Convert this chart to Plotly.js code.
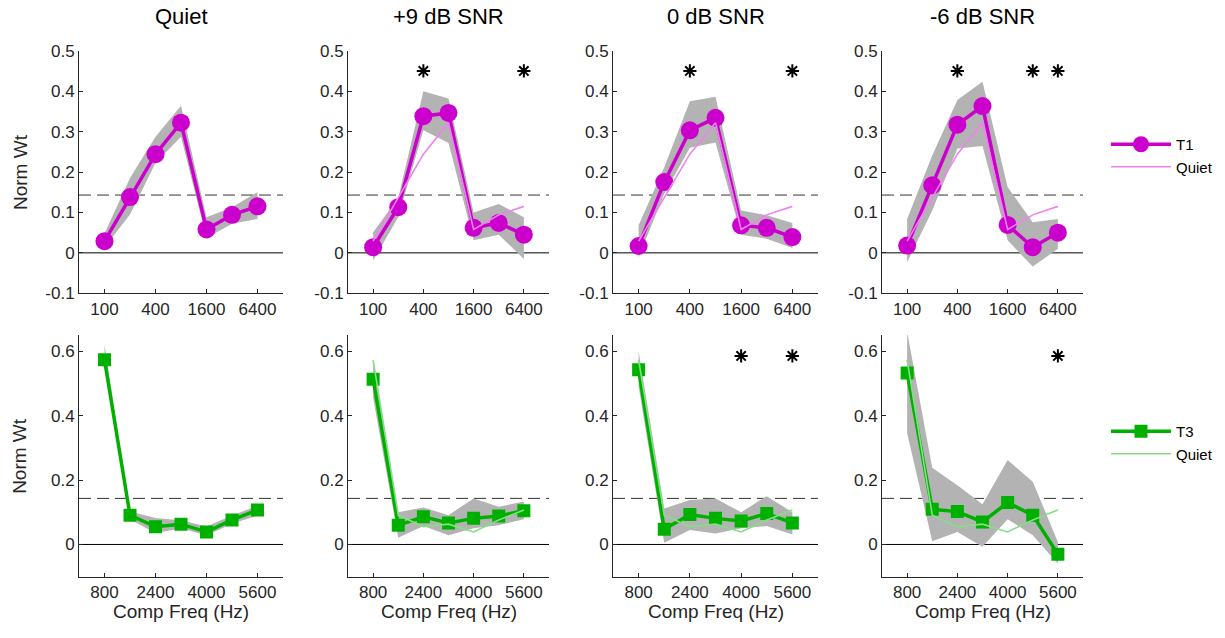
<!DOCTYPE html>
<html>
<head>
<meta charset="utf-8">
<script src="https://cdn.plot.ly/plotly-3.0.1.min.js"></script>
<style>html,body{margin:0;padding:0;background:#fff;}#chart{width:1225px;height:638px;}</style>
</head>
<body>
<div id="chart"></div>
<script>
// ---------- DATA ----------
const freqT1 = [100, 200, 400, 800, 1600, 3200, 6400];
const freqT3 = [800, 1600, 2400, 3200, 4000, 4800, 5600];
const panelTitles = ['Quiet', '+9 dB SNR', '0 dB SNR', '-6 dB SNR'];
const t1TickVals = [100, 400, 1600, 6400];
const t1TickText = ['100', '400', '1600', '6400'];
const t3TickVals = [800, 2400, 4000, 5600];
const t3TickText = ['800', '2400', '4000', '5600'];
const t1YTickVals = [-0.1, 0, 0.1, 0.2, 0.3, 0.4, 0.5];
const t1YTickText = ['-0.1', '0', '0.1', '0.2', '0.3', '0.4', '0.5'];
const t3YTickVals = [0, 0.2, 0.4, 0.6];
const t3YTickText = ['0', '0.2', '0.4', '0.6'];
const chanceLevel = 0.143;

// T1 (top row)
const t1QuietMean = [0.029, 0.138, 0.244, 0.322, 0.058, 0.094, 0.115];
const t1QuietLo   = [0.014, 0.095, 0.222, 0.287, 0.037, 0.072, 0.084];
const t1QuietHi   = [0.048, 0.185, 0.287, 0.364, 0.088, 0.113, 0.150];
const t1Snr9Mean  = [0.014, 0.113, 0.338, 0.346, 0.062, 0.074, 0.045];
const t1Snr9Lo    = [-0.019, 0.088, 0.303, 0.272, 0.031, 0.045, -0.015];
const t1Snr9Hi    = [0.051, 0.136, 0.400, 0.382, 0.100, 0.121, 0.088];
const t1Snr0Mean  = [0.017, 0.175, 0.303, 0.334, 0.068, 0.062, 0.039];
const t1Snr0Lo    = [-0.011, 0.146, 0.260, 0.273, 0.045, 0.035, 0.012];
const t1Snr0Hi    = [0.068, 0.212, 0.375, 0.386, 0.105, 0.093, 0.074];
const t1SnrM6Mean = [0.018, 0.167, 0.317, 0.363, 0.069, 0.014, 0.050];
const t1SnrM6Lo   = [-0.023, 0.105, 0.258, 0.264, 0.031, -0.034, 0.010];
const t1SnrM6Hi   = [0.084, 0.241, 0.378, 0.423, 0.163, 0.076, 0.084];

// T3 (bottom row)
const t3QuietMean = [0.573, 0.091, 0.055, 0.063, 0.039, 0.076, 0.107];
const t3QuietLo   = [0.550, 0.078, 0.035, 0.050, 0.028, 0.064, 0.090];
const t3QuietHi   = [0.620, 0.102, 0.082, 0.075, 0.056, 0.090, 0.120];
const t3Snr9Mean  = [0.513, 0.060, 0.086, 0.067, 0.081, 0.088, 0.105];
const t3Snr9Lo    = [0.455, 0.021, 0.057, 0.029, 0.050, 0.060, 0.078];
const t3Snr9Hi    = [0.568, 0.100, 0.115, 0.091, 0.143, 0.117, 0.133];
const t3Snr0Mean  = [0.542, 0.047, 0.093, 0.081, 0.073, 0.096, 0.067];
const t3Snr0Lo    = [0.490, 0.005, 0.045, 0.034, 0.050, 0.057, 0.031];
const t3Snr0Hi    = [0.599, 0.112, 0.138, 0.143, 0.100, 0.150, 0.100];
const t3SnrM6Mean = [0.532, 0.109, 0.102, 0.070, 0.130, 0.091, -0.030];
const t3SnrM6Lo   = [0.345, 0.010, 0.039, -0.007, 0.078, 0.029, -0.059];
const t3SnrM6Hi   = [0.660, 0.238, 0.184, 0.125, 0.262, 0.195, 0.008];

// significance markers (frequencies)
const sigT1 = [[], [400, 6400], [400, 6400], [400, 3200, 6400]];
const sigT3 = [[], [], [4000, 5600], [5600]];
const sigYT1 = 0.45;
const sigYT3 = 0.585;

// ---------- STYLE ----------
const W = 1225, H = 638;
const FONT = 'Liberation Sans, Arial, Helvetica, sans-serif';
const TXT = '#262626';
const MAGENTA = '#CC00CC', MAGENTA_LIGHT = '#EE82EE';
const GREEN = '#00B000', GREEN_LIGHT = '#86DE86';
const BAND = '#B3B3B3';
const colPx = [[79, 283], [348, 549], [613, 818], [882, 1083]];
const topRowPx = [50.7, 293.3], botRowPx = [335, 576.7];

const t1Sets = [[t1QuietMean, t1QuietLo, t1QuietHi], [t1Snr9Mean, t1Snr9Lo, t1Snr9Hi],
                [t1Snr0Mean, t1Snr0Lo, t1Snr0Hi], [t1SnrM6Mean, t1SnrM6Lo, t1SnrM6Hi]];
const t3Sets = [[t3QuietMean, t3QuietLo, t3QuietHi], [t3Snr9Mean, t3Snr9Lo, t3Snr9Hi],
                [t3Snr0Mean, t3Snr0Lo, t3Snr0Hi], [t3SnrM6Mean, t3SnrM6Lo, t3SnrM6Hi]];

const traces = [];
const layout = {
  width: W, height: H, autosize: false,
  margin: {l: 0, r: 0, t: 0, b: 0},
  paper_bgcolor: '#fff', plot_bgcolor: 'rgba(0,0,0,0)',
  font: {family: FONT, color: TXT, size: 15},
  showlegend: true,
  legend: {x: 1106 / W, y: 1 - 128 / H, xanchor: 'left', yanchor: 'top', bgcolor: 'rgba(0,0,0,0)',
           font: {size: 15, color: '#000'}, itemwidth: 60, tracegroupgap: 0},
  legend2: {x: 1106 / W, y: 1 - 415 / H, xanchor: 'left', yanchor: 'top', bgcolor: 'rgba(0,0,0,0)',
            font: {size: 15, color: '#000'}, itemwidth: 60, tracegroupgap: 0},
  shapes: [], annotations: []
};

function axId(n) { return n === 1 ? '' : String(n); }

function addPanel(idx, row, col, freqs, sets, quietMean, color, light, symbol, msize, sig, sigY) {
  const n = idx;
  const xa = 'x' + axId(n), ya = 'y' + axId(n);
  const [mean, lo, hi] = sets;
  const isTop = row === 0;
  // band
  traces.push({x: freqs.concat(freqs.slice().reverse()), y: hi.concat(lo.slice().reverse()),
    xaxis: xa, yaxis: ya, type: 'scatter', mode: 'lines', fill: 'toself', fillcolor: BAND,
    line: {width: 0, color: BAND}, showlegend: false, hoverinfo: 'skip'});
  // main
  const legendName = isTop ? 'T1' : 'T3';
  const legendRef = isTop ? 'legend' : 'legend2';
  traces.push({x: freqs, y: mean, xaxis: xa, yaxis: ya, type: 'scatter', mode: 'lines+markers',
    line: {color: color, width: 3.5}, marker: {color: color, size: msize, symbol: symbol},
    name: legendName, legend: legendRef, showlegend: col === 1});
  // quiet reference
  if (col > 0) {
    traces.push({x: freqs, y: quietMean, xaxis: xa, yaxis: ya, type: 'scatter', mode: 'lines',
      line: {color: light, width: 1.6}, name: 'Quiet', legend: legendRef, showlegend: col === 1});
  }
  // significance
  if (sig.length) {
    traces.push({x: sig, y: sig.map(() => sigY), xaxis: xa, yaxis: ya, type: 'scatter', mode: 'markers',
      marker: {symbol: 'asterisk-open', size: 11, color: '#000', line: {color: '#000', width: 2}},
      showlegend: false, hoverinfo: 'skip'});
  }
  const xd = [colPx[col][0] / W, colPx[col][1] / W];
  const rp = isTop ? topRowPx : botRowPx;
  const yd = [1 - rp[1] / H, 1 - rp[0] / H];
  layout['xaxis' + axId(n)] = {
    domain: xd, anchor: ya,
    type: isTop ? 'log' : 'linear',
    range: isTop ? [Math.log10(50), Math.log10(12800)] : [0, 6400],
    tickmode: 'array', tickvals: isTop ? t1TickVals : t3TickVals, ticktext: isTop ? t1TickText : t3TickText,
    showline: true, linecolor: TXT, linewidth: 1, ticks: 'inside', ticklen: 4, tickcolor: TXT,
    showgrid: false, zeroline: false, tickfont: {size: 17, color: TXT, family: FONT}, fixedrange: true
  };
  layout['yaxis' + axId(n)] = {
    domain: yd, anchor: xa,
    range: isTop ? [-0.1, 0.5] : [-0.1, 0.65],
    tickmode: 'array', tickvals: isTop ? t1YTickVals : t3YTickVals, ticktext: isTop ? t1YTickText : t3YTickText,
    showline: true, linecolor: TXT, linewidth: 1, ticks: 'inside', ticklen: 4, tickcolor: TXT,
    showgrid: false, zeroline: false, tickfont: {size: 17, color: TXT, family: FONT}, fixedrange: true
  };
  // zero line and chance line
  layout.shapes.push({type: 'line', xref: xa + ' domain', yref: ya, x0: 0, x1: 1, y0: 0, y1: 0,
    line: {color: '#000', width: 1}, layer: 'below'});
  layout.shapes.push({type: 'line', xref: xa + ' domain', yref: ya, x0: 0, x1: 1, y0: chanceLevel, y1: chanceLevel,
    line: {color: '#333', width: 1, dash: '12px,6px'}, layer: 'below'});
  if (isTop) {
    layout.annotations.push({text: panelTitles[col], xref: 'paper', yref: 'paper',
      x: (xd[0] + xd[1]) / 2, y: 1 - 17 / H, xanchor: 'center', yanchor: 'middle', showarrow: false,
      font: {size: 22, color: '#000', family: FONT}});
  } else {
    layout.annotations.push({text: 'Comp Freq (Hz)', xref: 'paper', yref: 'paper',
      x: (xd[0] + xd[1]) / 2, y: 1 - 611 / H, xanchor: 'center', yanchor: 'middle', showarrow: false,
      font: {size: 19, color: TXT, family: FONT}});
  }
  if (col === 0) {
    layout.annotations.push({text: 'Norm Wt', xref: 'paper', yref: 'paper', textangle: -90,
      x: 20 / W, y: (yd[0] + yd[1]) / 2, xanchor: 'center', yanchor: 'middle', showarrow: false,
      font: {size: 19, color: TXT, family: FONT}});
  }
}

for (let c = 0; c < 4; c++) {
  addPanel(c + 1, 0, c, freqT1, t1Sets[c], t1QuietMean, MAGENTA, MAGENTA_LIGHT, 'circle', 18, sigT1[c], sigYT1);
}
for (let c = 0; c < 4; c++) {
  addPanel(c + 5, 1, c, freqT3, t3Sets[c], t3QuietMean, GREEN, GREEN_LIGHT, 'square', 13, sigT3[c], sigYT3);
}

Plotly.newPlot('chart', traces, layout, {staticPlot: true, displayModeBar: false});
</script>
</body>
</html>
